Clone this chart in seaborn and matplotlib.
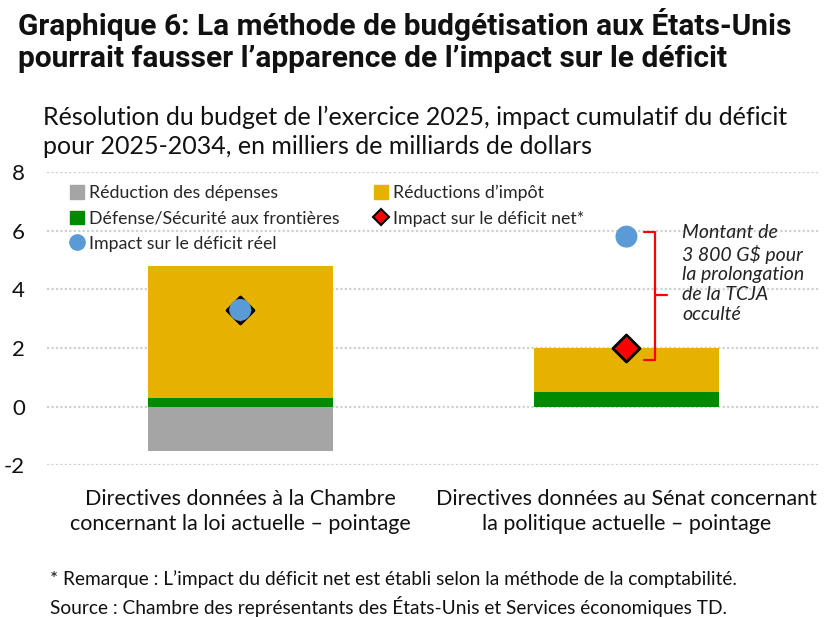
import numpy as np
import pandas as pd
import seaborn as sns
from matplotlib import pyplot as plt
from matplotlib import font_manager
from matplotlib.lines import Line2D
from matplotlib.patches import Patch

# Données (milliers de milliards $)
categories = ['Directives données à la Chambre\nconcernant la loi actuelle – pointage',
              'Directives données au Sénat concernant\nla politique actuelle – pointage']
depenses = [-1.5, 0.0]
defense = [0.3, 0.5]
impots = [4.5, 1.5]
net_impact = [3.3, 2.0]
reel_impact = [3.3, 5.8]

c_gray = '#A5A5A5'
c_yellow = '#E6B200'
c_green = '#008A00'
c_blue = '#5B9BD5'
c_red = '#FF0000'

sns.set_theme(style='white')
avail = {f.name for f in font_manager.fontManager.ttflist}
base_font = 'Lato' if 'Lato' in avail else 'DejaVu Sans'
title_font = 'Roboto' if 'Roboto' in avail else 'DejaVu Sans'
plt.rcParams['font.family'] = [base_font, 'DejaVu Sans']

fig = plt.figure(figsize=(8.27, 6.17), dpi=100)
ax = fig.add_axes([0.057, 0.246, 0.934, 0.475])

df = pd.DataFrame({'cat': categories, 'depenses': depenses, 'defense': defense,
                   'impots': impots})
pos = np.arange(len(categories))

bar_kw = dict(width=0.48, saturation=1, ax=ax, zorder=2, linewidth=0)
sns.barplot(data=df, x='cat', y='depenses', color=c_gray, **bar_kw)
sns.barplot(data=df, x='cat', y='defense', color=c_green, **bar_kw)
sns.barplot(data=df, x='cat', y='impots', bottom=df['defense'], color=c_yellow,
            **bar_kw)

sns.scatterplot(x=pos, y=net_impact, marker='D', s=190, color=c_red,
                edgecolor='black', linewidth=2, ax=ax, zorder=4)
sns.scatterplot(x=pos, y=reel_impact, marker='o', s=250, color=c_blue,
                edgecolor='none', ax=ax, zorder=5)

# accolade
bx = 1.073
ax.plot([1.045, bx, bx, 1.045], [5.95, 5.95, 1.6, 1.6], color=c_red, lw=1.6,
        zorder=3, solid_joinstyle='round')
ax.plot([bx, 1.104], [3.8, 3.8], color=c_red, lw=1.6, zorder=3)
ax.text(1.145, 6.22, 'Montant de\n3 800 G$ pour\nla prolongation\nde la TCJA\nocculté',
        ha='left', va='top', fontsize=14, style='italic', linespacing=1.2,
        color='#222222')

ax.set_xlim(-0.5, 1.5)
ax.set_ylim(-2, 8)
ax.set_yticks([-2, 0, 2, 4, 6, 8])
ax.set_yticklabels(['-2', '0', '2', '4', '6', '8'])
ax.yaxis.grid(True, color='#D0D0D0', linestyle=(0, (1, 1)), linewidth=1.6)
ax.set_axisbelow(True)
for s in ax.spines.values():
    s.set_visible(False)
ax.tick_params(axis='y', labelsize=16, pad=16, length=0, colors='#111111')
ax.tick_params(axis='x', labelsize=15.5, pad=17, length=0, colors='#111111')
ax.set_xticks(pos)
ax.set_xticklabels(categories, linespacing=1.35)
ax.set_xlabel('')
ax.set_ylabel('')

handles = [Patch(color=c_gray), Patch(color=c_green),
           Line2D([], [], marker='o', color=c_blue, linestyle='', markersize=11),
           Patch(color=c_yellow),
           Line2D([], [], marker='D', color=c_red, markeredgecolor='black',
                  markeredgewidth=1.5, linestyle='', markersize=8)]
labels = ['Réduction des dépenses', 'Défense/Sécurité aux frontières',
          'Impact sur le déficit réel', 'Réductions d’impôt',
          'Impact sur le déficit net*']
ax.legend(handles, labels, ncol=2, loc='upper left', bbox_to_anchor=(0.02, 0.98),
          frameon=False, fontsize=12.8, handlelength=0.8, handleheight=0.8,
          handletextpad=0.3, columnspacing=1.9, labelspacing=0.52,
          borderaxespad=0)

fig.text(0.022, 0.987, 'Graphique 6: La méthode de budgétisation aux États-Unis\n'
         'pourrait fausser l’apparence de l’impact sur le déficit',
         ha='left', va='top', fontsize=21.5, fontweight='bold',
         family=[title_font, 'DejaVu Sans'], linespacing=1.2, color='#111111')
fig.text(0.052, 0.828, 'Résolution du budget de l’exercice 2025, impact cumulatif du déficit\n'
         'pour 2025-2034, en milliers de milliards de dollars',
         ha='left', va='top', fontsize=18, linespacing=1.3, color='#111111')
fig.text(0.06, 0.076, '* Remarque : L’impact du déficit net est établi selon la méthode de la comptabilité.\n'
         'Source : Chambre des représentants des États-Unis et Services économiques TD.',
         ha='left', va='top', fontsize=13.8, linespacing=1.45, color='#111111')

fig.savefig('out.png', dpi=100)
